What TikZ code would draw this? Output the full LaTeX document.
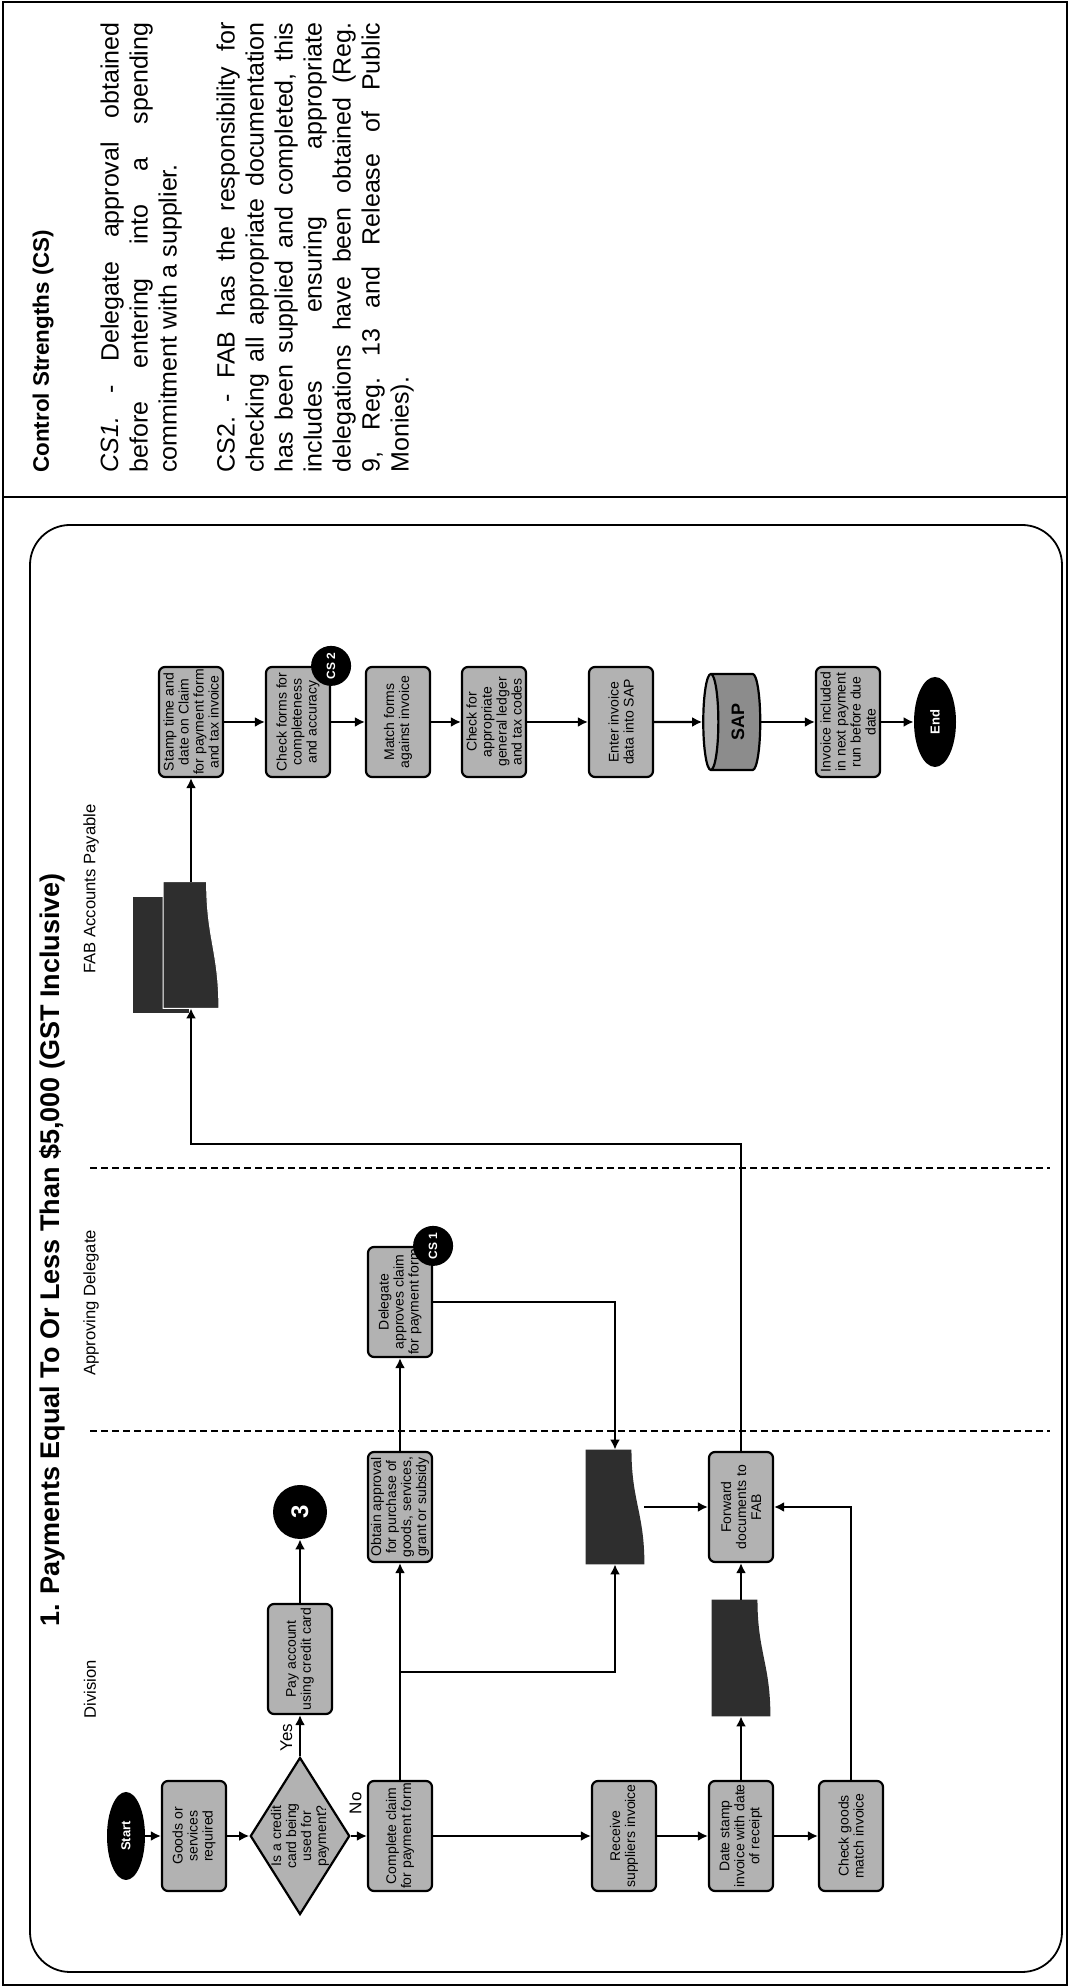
\documentclass[tikz,border=0pt]{standalone}
\usepackage{fontspec}
\setmainfont{Liberation Sans}
\usetikzlibrary{arrows.meta}
\usetikzlibrary{calc}
\usetikzlibrary{shapes}

% dark document symbol over a named (empty) node
\newcommand{\drawdoc}[2]{%
  \coordinate (#1-r) at ($(#1.south east)!0.22!(#1.north east)$);
  \coordinate (#1-l) at ($(#1.south west)!0.22!(#1.north west)$);
  \coordinate (#1-c1) at ($(#1-l)!0.55!(#1-r)$);
  \coordinate (#1-c2) at ($(#1.south west)!0.45!(#1.south east)$);
  \fill[black!82,#2] (#1.north west) -- (#1.north east) -- (#1-r)
    .. controls (#1-c1) and (#1-c2) .. (#1.south west) -- cycle;}

\begin{document}
\begin{tikzpicture}[x=0.5pt,y=0.5pt,
    proc box/.style={draw,rectangle,rounded corners=3pt,line width=1.1pt,fill=black!30,
      minimum width=55pt,minimum height=32pt,inner sep=1pt,align=center,
      font=\fontsize{7}{7.5}\selectfont},
    decision/.style={diamond,draw,line width=1.1pt,fill=black!30,aspect=1.58,inner sep=0pt,
      minimum width=75pt,minimum height=47.5pt,align=center,font=\fontsize{7}{7.5}\selectfont},
    doc box/.style={rectangle,minimum width=57pt,minimum height=29pt,inner sep=0pt},
    term/.style={ellipse,fill=black,text=white,inner sep=0pt,font=\bfseries\fontsize{6.5}{7}\selectfont},
    conn/.style={circle,fill=black,text=white,inner sep=0pt},
    sap store/.style={cylinder,shape border rotate=90,aspect=0.3,draw,line width=1.1pt,
      cylinder uses custom fill,cylinder body fill=black!45,cylinder end fill=black!30,
      minimum width=48pt,minimum height=28.5pt,font=\bfseries\fontsize{9}{10}\selectfont},
    flow/.style={line width=1.1pt,-{Latex[length=5pt,width=5pt]}},
    lane label/.style={font=\fontsize{8.3}{10}\selectfont},
    lane line/.style={line width=0.7pt,dash pattern=on 3.5pt off 2pt},
    small label/.style={font=\fontsize{8.5}{9}\selectfont}]
\begin{scope}[rotate=90,transform shape]
\useasboundingbox (0,0) rectangle (1987,-1070);

% page frame
\draw[line width=0.9pt] (2,-3) rectangle (1985,-1067);
\draw[line width=0.9pt] (1490,-3) -- (1490,-1067);
\draw[line width=0.9pt,rounded corners=20pt] (15,-30) rectangle (1462,-1062);

\node[font=\bfseries\fontsize{13.5}{16}\selectfont] (title) at (737,-52)
  {1. Payments Equal To Or Less Than \$5,000 (GST Inclusive)};

% lanes
\node[lane label] (divlabel) at (298,-90) {Division};
\node[lane label] (adlabel) at (684,-91) {Approving Delegate};
\node[lane label] (fablabel) at (1098,-91) {FAB Accounts Payable};
\draw[lane line] (556,-90) -- (556,-1050);
\draw[lane line] (819,-90) -- (819,-1050);

% Division
\node[term,minimum width=44pt,minimum height=19pt] (start) at (151,-126) {Start};
\node[proc box] (goods) at (151,-194) {Goods or\\services\\required};
\node[decision] (credit) at (151,-300) {Is a credit\\card being\\used for\\payment?};
\node[proc box] (paycard) at (328,-300) {Pay account\\using credit card};
\node[conn,minimum size=27pt,font=\bfseries\fontsize{12}{14}\selectfont] (three) at (475,-300) {3};
\node[proc box] (claim) at (151,-400) {Complete claim\\for payment form};
\node[proc box] (approval) at (480,-400) {Obtain approval\\for purchase of\\goods, services,\\grant or subsidy};
\node[doc box] (formsdoc) at (480,-615) {};
\node[proc box] (receive) at (151,-624) {Receive\\suppliers invoice};
\node[proc box] (forward) at (480,-741) {Forward\\documents to\\FAB};
\node[doc box,minimum width=58pt] (invoicedoc) at (329,-741) {};
\node[proc box] (datestamp) at (151,-741) {Date stamp\\invoice with date\\of receipt};
\node[proc box] (checkgoods) at (151,-851) {Check goods\\match invoice};

% Approving Delegate
\node[proc box] (delegate) at (685,-400) {Delegate\\approves claim\\for payment form};

% FAB Accounts Payable
\node[doc box,minimum width=57.5pt,minimum height=27.5pt] (fabback) at (1032,-161) {};
\node[doc box,minimum width=63pt,minimum height=27.5pt] (fabdocs) at (1042,-191) {};
\node[proc box] (stamp) at (1265,-191) {Stamp time and\\date on Claim\\for payment form\\and tax invoice};
\node[proc box] (checkforms) at (1265,-298) {Check forms for\\completeness\\and accuracy};
\node[proc box] (match) at (1265,-398) {Match forms\\against invoice};
\node[proc box] (ledger) at (1265,-494) {Check for\\appropriate\\general ledger\\and tax codes};
\node[proc box] (enter) at (1265,-621) {Enter invoice\\data into SAP};
\node[sap store] (sap) at (1265,-738) {SAP};
\node[proc box] (payrun) at (1265,-848) {Invoice included\\in next payment\\run before due\\date};
\node[term,minimum width=45pt,minimum height=21pt] (finish) at (1265,-935) {End};

\drawdoc{formsdoc}{}
\drawdoc{invoicedoc}{}
\drawdoc{fabback}{}
\drawdoc{fabdocs}{draw=white,line width=0.5pt}

% connectors
\draw[flow] (start) -- (goods);
\draw[flow] (goods) -- (credit);
\draw[flow] (credit) -- node[small label,above,pos=0.45] {Yes} (paycard);
\draw[flow] (paycard) -- (three);
\draw[flow] (credit) -- node[small label,right=7pt,pos=0.3] {No} (claim);
\draw[flow] (claim) -- (approval);
\coordinate (split) at (315,-400);
\draw[flow] (split) |- (formsdoc.west);
\draw[flow] (claim) -- (receive);
\draw[flow] (approval) -- (delegate);
\draw[flow] (delegate.south) |- (formsdoc.east);
\draw[flow] (formsdoc) -- (forward);
\draw[flow] (receive) -- (datestamp);
\draw[flow] (datestamp) -- (checkgoods);
\draw[flow] (datestamp) -- (invoicedoc);
\draw[flow] (invoicedoc) -- (forward);
\draw[flow] (checkgoods.east) -| (forward.south);
\coordinate (fabturn) at (843,0);
\draw[flow] (forward.east) -| (fabturn |- fabdocs.west) -- (fabdocs.west);
\draw[flow] (fabdocs) -- (stamp);
\draw[flow] (stamp) -- (checkforms);
\draw[flow] (checkforms) -- (match);
\draw[flow] (match) -- (ledger);
\draw[flow] (ledger) -- (enter);
\draw[flow] (enter) -- (sap);
\draw[flow] (sap) -- (payrun);
\draw[flow] (payrun) -- (finish);

% control strength markers
\node[conn,minimum size=20pt,font=\bfseries\fontsize{6}{7}\selectfont] (cs1) at (delegate.south east) {CS 1};
\node[conn,minimum size=20pt,font=\bfseries\fontsize{6}{7}\selectfont] (cs2) at (checkforms.south east) {CS 2};

% control strengths panel
\node[anchor=base west,inner sep=0pt,font=\bfseries\fontsize{11.2}{13}\selectfont] (cshead)
  at (1514,-49) {Control Strengths (CS)};
\node[anchor=north west,inner sep=0pt,align=left,font=\fontsize{12.5}{14.5}\selectfont\frenchspacing] (cstext)
  at (1514,-100) {%
  \makebox[225pt][s]{\textit{CS1.} - Delegate approval obtained}\\
  \makebox[225pt][s]{before entering into a spending}\\
  commitment with a supplier.\\[14.5pt]
  \makebox[225pt][s]{CS2. - FAB has the responsibility for}\\
  \makebox[225pt][s]{checking all appropriate documentation}\\
  \makebox[225pt][s]{has been supplied and completed, this}\\
  \makebox[225pt][s]{includes ensuring appropriate}\\
  \makebox[225pt][s]{delegations have been obtained (Reg.}\\
  \makebox[225pt][s]{9, Reg. 13 and Release of Public}\\
  Monies).};
\end{scope}
\end{tikzpicture}
\end{document}
